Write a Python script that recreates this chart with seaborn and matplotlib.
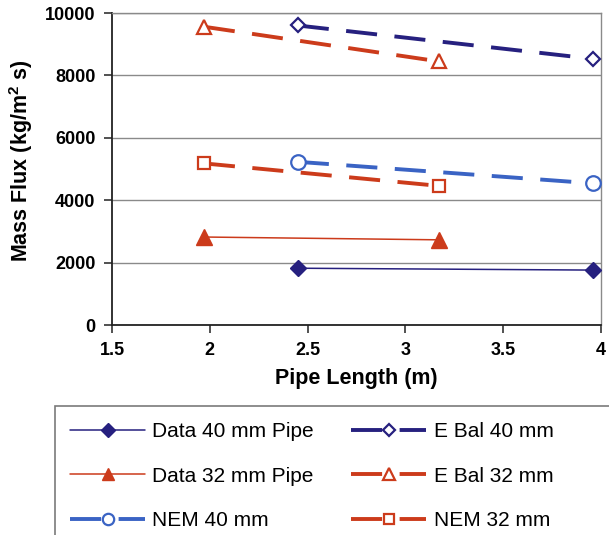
import matplotlib
matplotlib.use("Agg")
import matplotlib.pyplot as plt
from matplotlib.patches import Rectangle
import seaborn as sns
import pandas as pd

# Pipe lengths (m) for the two test sections
length_40mm = [2.45, 3.96]
length_32mm = [1.97, 3.17]

# Mass flux (kg/m^2 s)
data_40mm = [1820, 1760]
data_32mm = [2820, 2730]
ebal_40mm = [9600, 8530]
ebal_32mm = [9560, 8450]
nem_40mm = [5230, 4540]
nem_32mm = [5180, 4460]

x_ticks = [1.5, 2, 2.5, 3, 3.5, 4]
y_ticks = [0, 2000, 4000, 6000, 8000, 10000]

NAVY = "#26207f"
RED = "#cc3b1b"
BLUE = "#3a63c4"

sns.set_theme(style="white")
plt.rcParams["font.family"] = ["Liberation Sans", "DejaVu Sans"]
plt.rcParams["mathtext.fontset"] = "custom"
plt.rcParams["mathtext.bf"] = "Liberation Sans:bold"
plt.rcParams["mathtext.rm"] = "Liberation Sans"
plt.rcParams["text.color"] = "black"
plt.rcParams["axes.labelcolor"] = "black"
plt.rcParams["xtick.color"] = "black"
plt.rcParams["ytick.color"] = "black"

W, H = 609, 535
fig = plt.figure(figsize=(W / 100, H / 100), dpi=100)
ax = fig.add_axes([112 / W, 1 - 325 / H, (601 - 112) / W, (325 - 13) / H])

dash = (0, (8, 4.5))
series = [
    ("Data 40 mm Pipe", length_40mm, data_40mm,
     dict(color=NAVY, lw=1.1, ls="-", marker="D", ms=8.5, mfc=NAVY, mec=NAVY, mew=1)),
    ("Data 32 mm Pipe", length_32mm, data_32mm,
     dict(color=RED, lw=1.1, ls="-", marker="^", ms=11.5, mfc=RED, mec=RED, mew=1)),
    ("NEM 40 mm", length_40mm, nem_40mm,
     dict(color=BLUE, lw=2.8, ls=dash, marker="o", ms=10.5, mfc="white", mec=BLUE, mew=1.6)),
    ("E Bal 40 mm", length_40mm, ebal_40mm,
     dict(color=NAVY, lw=2.8, ls=dash, marker="D", ms=7.5, mfc="white", mec=NAVY, mew=1.6)),
    ("E Bal 32 mm", length_32mm, ebal_32mm,
     dict(color=RED, lw=2.8, ls=dash, marker="^", ms=10.5, mfc="white", mec=RED, mew=1.6)),
    ("NEM 32 mm", length_32mm, nem_32mm,
     dict(color=RED, lw=2.8, ls=dash, marker="s", ms=8.5, mfc="white", mec=RED, mew=1.6)),
]

for label, xs, ys, style in series:
    df = pd.DataFrame({"x": xs, "y": ys})
    sns.lineplot(data=df, x="x", y="y", ax=ax, label=label,
                 color=style["color"], linewidth=style["lw"], linestyle=style["ls"],
                 marker=style["marker"], markersize=style["ms"],
                 markerfacecolor=style["mfc"], markeredgecolor=style["mec"],
                 markeredgewidth=style["mew"], clip_on=False, zorder=3)

ax.set_xlim(1.5, 4)
ax.set_ylim(0, 10000)
ax.set_xticks(x_ticks)
ax.set_xticklabels([f"{t:g}" for t in x_ticks])
ax.set_yticks(y_ticks)
ax.set_yticklabels([str(t) for t in y_ticks])
ax.yaxis.grid(True, color="#8a8a8a", linewidth=1.0)
ax.set_axisbelow(True)

for side in ("top", "right"):
    ax.spines[side].set_color("#8a8a8a")
    ax.spines[side].set_linewidth(1.0)
for side in ("left", "bottom"):
    ax.spines[side].set_color("#222222")
    ax.spines[side].set_linewidth(1.3)

ax.tick_params(axis="both", which="major", direction="out", length=6, width=1.1,
               color="#222222", labelsize=13, pad=6, bottom=True, left=True)
for lab in ax.get_xticklabels() + ax.get_yticklabels():
    lab.set_fontweight("bold")

ax.set_xlabel("Pipe Length (m)", fontsize=15.5, fontweight="bold", labelpad=7)
ax.set_ylabel("Mass Flux (kg/m$^{\\mathbf{2}}$ s)", fontsize=15.5, fontweight="bold")
ax.yaxis.set_label_coords((35 - 112) / 489, (325 - 161) / 312)

handles, labels = ax.get_legend_handles_labels()
ax.get_legend().remove()
fig.legend(handles, labels, loc="upper left", bbox_to_anchor=(70 / W, 1 - 422 / H),
           ncol=2, frameon=False, fontsize=15, handlelength=3.6, handletextpad=0.35,
           columnspacing=1.8, labelspacing=1.23, borderaxespad=0, borderpad=0,
           markerscale=0.78)

fig.patches.append(Rectangle((55 / W, -0.05), 1.0, (1 - 406 / H) + 0.05,
                             transform=fig.transFigure, fill=False,
                             edgecolor="#7a7a7a", linewidth=1.2))

fig.savefig("out.png", dpi=100)
